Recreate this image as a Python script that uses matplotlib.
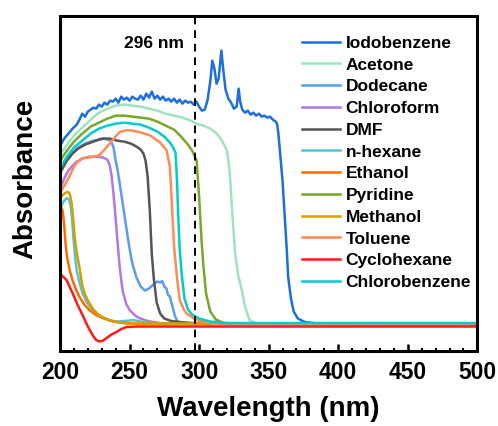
import numpy as np
import matplotlib as mpl
mpl.use("Agg")
import matplotlib.pyplot as plt

plt.rcParams['font.family'] = ['Liberation Sans', 'DejaVu Sans']
plt.rcParams['font.weight'] = 'bold'

# DATA (wavelength nm, absorbance a.u.)

iodobenzene_x = [201, 203, 206, 209, 212, 214, 216, 218, 220, 222, 224, 226, 228, 230, 232, 234, 236, 238, 240,
                 242, 244, 246, 248, 250, 252, 254, 256, 258, 260, 262, 264, 266, 268, 270, 272, 274, 276, 278,
                 280, 282, 284, 286, 288, 290, 292, 294, 296, 298, 300, 302, 304, 306, 308, 309.5, 311, 312.5,
                 314, 316, 317.5, 319, 321, 323, 325, 327, 328.4, 329.5, 331, 333, 335, 337, 339, 341, 343, 345,
                 347, 349, 351, 353, 355, 356, 357, 358, 360, 362, 363, 364, 366, 368, 371, 376, 385, 500]
iodobenzene_y = [1.83, 1.88, 1.93, 1.98, 2.02, 2.07, 2.13, 2.10, 2.15, 2.17, 2.19, 2.18, 2.22, 2.20, 2.24, 2.22,
                 2.26, 2.25, 2.28, 2.24, 2.30, 2.27, 2.29, 2.26, 2.30, 2.28, 2.27, 2.31, 2.27, 2.33, 2.29, 2.35,
                 2.28, 2.31, 2.27, 2.30, 2.26, 2.28, 2.25, 2.28, 2.24, 2.27, 2.23, 2.26, 2.24, 2.25, 2.22, 2.25,
                 2.20, 2.16, 2.17, 2.26, 2.45, 2.66, 2.58, 2.43, 2.48, 2.76, 2.55, 2.37, 2.28, 2.24, 2.18, 2.20,
                 2.38, 2.25, 2.17, 2.14, 2.16, 2.12, 2.14, 2.11, 2.13, 2.10, 2.11, 2.09, 2.10, 2.07, 2.05, 2.03,
                 1.93, 1.77, 1.45, 1.00, 0.77, 0.50, 0.28, 0.15, 0.08, 0.045, 0.03, 0.025]

acetone_x = [201, 205, 210, 216, 222, 228, 234, 240, 246, 252, 258, 264, 270, 276, 282, 288, 294, 298, 303, 308,
             312, 315, 318, 320, 322, 324, 326, 328, 330.6, 333, 336, 340, 348, 500]
acetone_y = [1.74, 1.82, 1.91, 1.99, 2.07, 2.14, 2.18, 2.21, 2.22, 2.21, 2.20, 2.18, 2.16, 2.13, 2.11, 2.09, 2.06,
             2.03, 2.01, 1.98, 1.94, 1.89, 1.82, 1.76, 1.55, 1.10, 0.72, 0.52, 0.37, 0.20, 0.07, 0.035, 0.026, 0.025]

dodecane_x = [201, 205, 209, 213, 218, 224, 228, 232, 236.5, 238.5, 240, 241.5, 244, 247, 250, 252, 255, 258, 261,
              264, 267, 270, 272, 273.5, 275, 276.5, 277.5, 279, 280.5, 282.5, 284.5, 290, 500]
dodecane_y = [1.57, 1.67, 1.74, 1.79, 1.83, 1.86, 1.87, 1.88, 1.86, 1.79, 1.66, 1.56, 1.33, 1.05, 0.78, 0.63, 0.49,
              0.40, 0.36, 0.38, 0.42, 0.45, 0.44, 0.455, 0.40, 0.38, 0.32, 0.30, 0.22, 0.11, 0.05, 0.03, 0.025]

chloroform_x = [201, 203, 206, 209, 212, 216, 221, 226, 231, 234, 235.6, 237, 238.5, 240, 241.5, 243, 245, 247.5,
                250, 254, 257, 262, 267, 275, 500]
chloroform_y = [1.41, 1.48, 1.56, 1.61, 1.65, 1.68, 1.70, 1.70, 1.69, 1.67, 1.62, 1.52, 1.32, 1.08, 0.82, 0.58,
                0.36, 0.23, 0.165, 0.11, 0.085, 0.06, 0.045, 0.03, 0.025]

dmf_x = [201, 205, 209, 213, 218, 224, 230, 236, 241, 246, 251, 255, 258, 260, 261.5, 263, 264.5, 266, 267.5,
         269.5, 272, 275, 280, 286, 295, 305, 500]
dmf_y = [1.56, 1.66, 1.73, 1.78, 1.82, 1.85, 1.88, 1.88, 1.86, 1.85, 1.83, 1.80, 1.77, 1.73, 1.66, 1.50, 1.17,
         0.72, 0.47, 0.24, 0.13, 0.08, 0.055, 0.045, 0.035, 0.027, 0.025]

hexane_x = [201, 203, 205, 206.5, 207.5, 208.5, 209.5, 210.5, 212, 214, 216, 219, 223, 227, 231, 236, 241, 246,
            250, 253, 256, 260, 265, 275, 500]
hexane_y = [1.21, 1.26, 1.285, 1.27, 1.22, 1.10, 0.92, 0.74, 0.56, 0.44, 0.34, 0.25, 0.17, 0.12, 0.085, 0.06,
            0.05, 0.055, 0.06, 0.065, 0.055, 0.045, 0.035, 0.027, 0.025]

ethanol_x = [201, 202, 203, 204, 205, 207, 209, 211.5, 214, 217.5, 221, 226, 231, 236, 241, 250, 260, 500]
ethanol_y = [1.19, 1.15, 1.02, 0.83, 0.70, 0.56, 0.465, 0.37, 0.295, 0.22, 0.165, 0.115, 0.085, 0.06, 0.045,
             0.032, 0.026, 0.025]

pyridine_x = [201, 205, 210, 216, 222, 228, 234, 240, 246, 252, 258, 264, 270, 276, 282, 287, 292, 295, 298.2,
              300, 301.8, 303, 305, 308, 312, 318, 330, 500]
pyridine_y = [1.68, 1.76, 1.85, 1.93, 2.00, 2.04, 2.08, 2.11, 2.11, 2.10, 2.09, 2.08, 2.05, 2.01, 1.97, 1.90,
              1.82, 1.76, 1.66, 1.30, 0.85, 0.62, 0.33, 0.15, 0.07, 0.035, 0.026, 0.025]

methanol_x = [201, 203, 205, 206.5, 207.5, 208.5, 209.5, 210.5, 212, 214, 216, 218, 221, 224, 228, 234, 240, 248,
              500]
methanol_y = [1.30, 1.33, 1.345, 1.34, 1.30, 1.22, 1.07, 0.90, 0.74, 0.59, 0.41, 0.32, 0.235, 0.17, 0.115, 0.07,
              0.045, 0.03, 0.025]

toluene_x = [201, 204, 206.8, 209, 211.9, 216.2, 223.4, 228.4, 233.5, 237.8, 242.8, 247.8, 252, 257.2, 264.4,
             271.6, 276.6, 279, 280.5, 282, 284, 286, 289, 291, 298, 310, 500]
toluene_y = [1.36, 1.43, 1.50, 1.57, 1.635, 1.685, 1.695, 1.715, 1.795, 1.865, 1.945, 1.965, 1.96, 1.945, 1.915,
             1.845, 1.765, 1.60, 1.20, 0.80, 0.50, 0.27, 0.17, 0.13, 0.065, 0.03, 0.025]

cyclohexane_x = [201, 204.7, 209, 212.5, 216.2, 220, 223.4, 226, 228.4, 231, 233.5, 237, 240.6, 244, 247.8, 255,
                 500]
cyclohexane_y = [0.515, 0.465, 0.335, 0.22, 0.115, 0.0, -0.085, -0.135, -0.15, -0.14, -0.115, -0.08, -0.055,
                 -0.025, -0.005, 0.0, 0.0]

chlorobenzene_x = [201, 205, 210, 216, 222, 228, 234, 240, 246, 252, 258, 264, 270, 275, 279, 281, 283, 284,
                   285, 286, 287.5, 289.5, 292, 295, 300, 308, 320, 500]
chlorobenzene_y = [1.61, 1.70, 1.79, 1.86, 1.93, 1.98, 2.01, 2.03, 2.04, 2.03, 2.02, 1.99, 1.95, 1.90, 1.84,
                   1.80, 1.74, 1.50, 1.10, 0.78, 0.52, 0.28, 0.17, 0.12, 0.08, 0.05, 0.035, 0.035]

names = ["Iodobenzene", "Acetone", "Dodecane", "Chloroform", "DMF", "n-hexane", "Ethanol", "Pyridine",
         "Methanol", "Toluene", "Cyclohexane", "Chlorobenzene"]
xs = [iodobenzene_x, acetone_x, dodecane_x, chloroform_x, dmf_x, hexane_x, ethanol_x, pyridine_x,
      methanol_x, toluene_x, cyclohexane_x, chlorobenzene_x]
ys = [iodobenzene_y, acetone_y, dodecane_y, chloroform_y, dmf_y, hexane_y, ethanol_y, pyridine_y,
      methanol_y, toluene_y, cyclohexane_y, chlorobenzene_y]
colours = ["#1c6fdc", "#9fe3bf", "#5b9cf0", "#b07be0", "#555555", "#52c4d6", "#ff6a00", "#79a72b",
           "#d4a000", "#ff8c55", "#ff1a1a", "#00cccc"]

cutoff = 297

# PLOT

fig = plt.figure(figsize=(4.98, 4.26), dpi=100)
ax = fig.add_axes([0.1205, 0.176, 0.838, 0.786])

for x, y, c, n in zip(xs, ys, colours, names):
    ax.plot(x, y, color=c, lw=1.8, label=n)

ax.axvline(cutoff, color='black', lw=1.4, ls=(0, (4, 3)))
ax.text(267.5, 2.835, "296 nm", ha='center', va='center', fontsize=12.5, fontweight='bold')

ax.set_xlim(200, 500)
ax.set_ylim(-0.245, 3.105)
ax.set_xticks(np.arange(200, 501, 50))
ax.set_xticks(np.arange(200, 501, 10), minor=True)
ax.set_yticks([])
ax.tick_params(axis='x', which='major', direction='in', length=5, width=1.8, labelsize=16.5, pad=7)
ax.tick_params(axis='x', which='minor', direction='in', length=2.5, width=1.5)
for lab in ax.get_xticklabels():
    lab.set_fontweight('bold')
for s in ax.spines.values():
    s.set_linewidth(2.2)

ax.set_xlabel("Wavelength (nm)", fontsize=20, fontweight='bold', labelpad=9)
ax.set_ylabel("Absorbance", fontsize=20, fontweight='bold')
ax.yaxis.set_label_coords(-0.053, 0.515)

ax.legend(loc='upper left', bbox_to_anchor=(0.555, 0.973), frameon=False, fontsize=12.5,
          handlelength=2.2, handletextpad=0.3, labelspacing=0.38, borderaxespad=0.2)

fig.savefig("out.png", dpi=100)
